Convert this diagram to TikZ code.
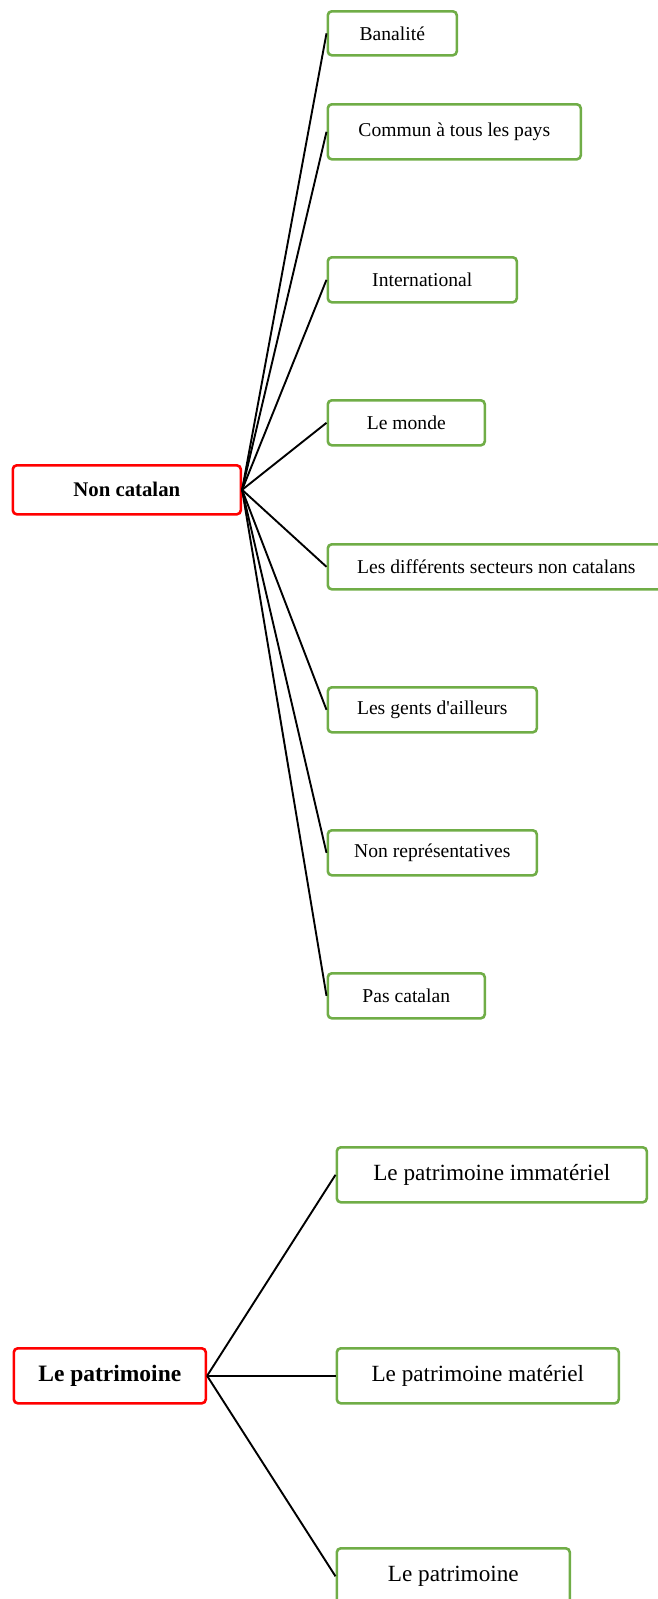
\documentclass[tikz,border=0pt]{standalone}
\usepackage{fontspec}
\setmainfont{Liberation Serif}
\definecolor{boxgreen}{HTML}{70AD47}
\definecolor{boxred}{HTML}{FF0000}
\begin{document}
\begin{tikzpicture}[x=1pt,y=-1pt,
  base/.style={draw, line width=2.6pt, rounded corners=4pt, anchor=north west, inner sep=0pt, align=center},
  parentbox/.style={base, draw=boxred, font=\fontsize{20.8}{25}\selectfont\bfseries},
  childbox/.style={base, draw=boxgreen, font=\fontsize{19.6}{23}\selectfont},
  bigparent/.style={base, draw=boxred, font=\fontsize{23.5}{28}\selectfont\bfseries},
  bigchild/.style={base, draw=boxgreen, font=\fontsize{23.2}{28}\selectfont},
  link/.style={draw=black, line width=1.9pt}]
\useasboundingbox (0,0) rectangle (657,1599);
% top graph
\node[parentbox, minimum width=228pt, minimum height=49pt] (nc) at (11.5,464) {Non catalan};
\node[childbox, minimum width=129pt, minimum height=44pt] (c1) at (326.5,10) {Banalité};
\node[childbox, minimum width=253pt, minimum height=55pt] (c2) at (326.5,103) {Commun à tous les pays};
\node[childbox, minimum width=189pt, minimum height=45pt] (c3) at (326.5,256) {International};
\node[childbox, minimum width=157pt, minimum height=45pt] (c4) at (326.5,399) {Le monde};
\node[childbox, minimum width=337pt, minimum height=45pt] (c5) at (326.5,543) {Les différents secteurs non catalans};
\node[childbox, minimum width=209pt, minimum height=45pt] (c6) at (326.5,686) {Les gents d\textquotesingle ailleurs};
\node[childbox, minimum width=209pt, minimum height=45pt] (c7) at (326.5,829) {Non représentatives};
\node[childbox, minimum width=157pt, minimum height=45pt] (c8) at (326.5,972) {Pas catalan};
\foreach \c in {c1,c2,c3,c4,c5,c6,c7,c8}
  \draw[link] (nc.east) -- (\c.west);
% bottom graph
\node[bigparent, minimum width=192pt, minimum height=55pt] (lp) at (12.5,1347) {Le patrimoine};
\node[bigchild, minimum width=310pt, minimum height=55pt] (p1) at (335.5,1146) {Le patrimoine immatériel};
\node[bigchild, minimum width=282pt, minimum height=55pt] (p2) at (335.5,1347) {Le patrimoine matériel};
\node[bigchild, minimum width=233pt, minimum height=56pt] (p3) at (335.5,1547) {Le patrimoine};
\foreach \c in {p1,p2,p3}
  \draw[link] (lp.east) -- (\c.west);
\end{tikzpicture}
\end{document}
